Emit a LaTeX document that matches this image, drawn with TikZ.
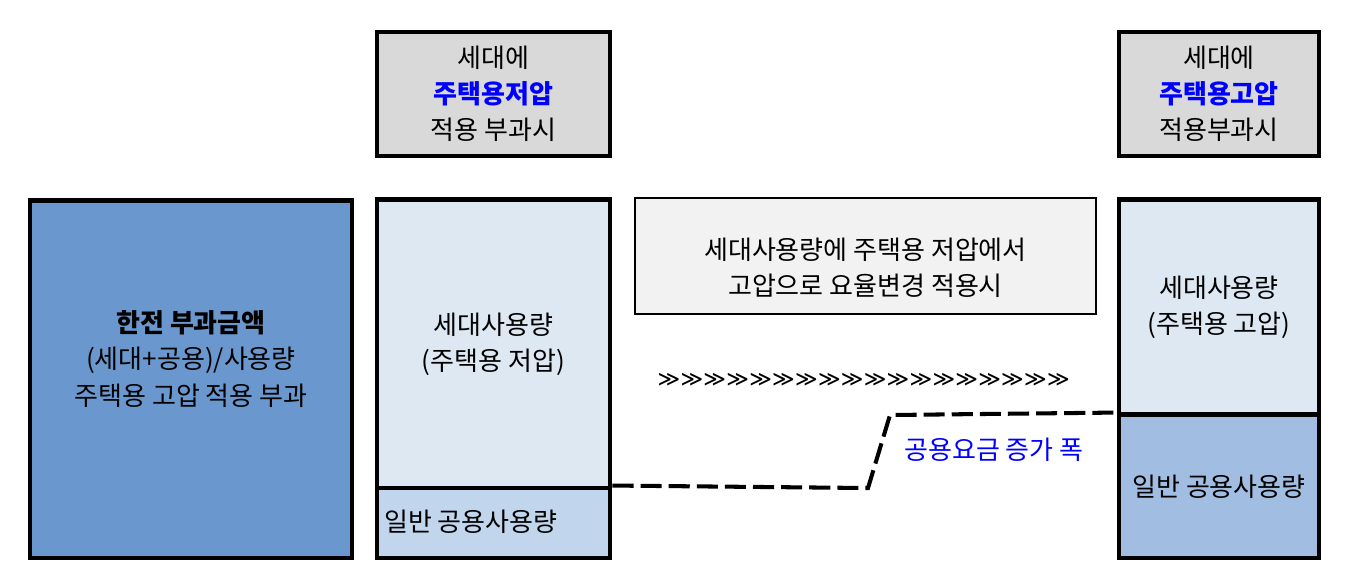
\documentclass[tikz,border=0pt]{standalone}
\usepackage{fontspec}
\setmainfont{Noto Sans CJK KR}
\newfontfamily\symfont{DejaVu Sans}
\usepackage{tikz}
\usetikzlibrary{positioning,calc}
\usepackage{xcolor}
\definecolor{bigblue}{HTML}{6A97CE}
\definecolor{palebox}{HTML}{DEE8F3}
\definecolor{lowblue}{HTML}{C1D6EC}
\definecolor{midblue}{HTML}{A1BEE2}
\definecolor{headgray}{HTML}{D9D9D9}
\definecolor{notegray}{HTML}{F2F2F2}
\definecolor{rateblue}{HTML}{0000FF}

\begin{document}
\begin{tikzpicture}[x=0.02cm, y=-0.02cm,
  every node/.style={align=center, font=\fontsize{14.8}{20.5}\selectfont},
  bar/.style={draw, line width=2.8pt, inner sep=0pt},
  head/.style={bar, fill=headgray, minimum width=4.66cm, minimum height=2.48cm},
  note/.style={draw, line width=1.4pt, fill=notegray, inner sep=0pt}]
\useasboundingbox (0,0) rectangle (1358,576);
% left column: total bill
\node[bar,fill=bigblue,minimum width=6.44cm,minimum height=7.16cm] (total) at (191,379) {};
\node (totaltxt) at (191,359) {\textbf{한전 부과금액}\\(세대+공용)/사용량\\주택용 고압 적용 부과};
% low voltage column
\node[head] (lowhead) at (493.5,94) {세대에\\\textcolor{rateblue}{\textbf{주택용저압}}\\적용 부과시};
\node[bar,fill=palebox,minimum width=4.66cm,minimum height=5.78cm] (lowhome) at (493.5,344) {세대사용량\\(주택용 저압)};
\node[bar,fill=lowblue,minimum width=4.66cm,minimum height=1.4cm] (lowshare) at (493.5,523) {};
\node[anchor=west] (lowsharetxt) at (378,522) {일반 공용사용량};
% middle note
\node[note,minimum width=9.22cm,minimum height=2.32cm] (change) at (865.5,256) {};
\node (changetxt) at (865.5,268) {세대사용량에 주택용 저압에서\\고압으로 요율변경 적용시};
\foreach \i in {0,...,17}
  \node[inner sep=0pt, font=\symfont\fontsize{12.3}{12.3}\selectfont] (step\i) at (669+\i*22.9,380) {≫};
% high voltage column
\node[head,minimum width=4.0cm] (highhead) at (1219,94) {세대에\\\textcolor{rateblue}{\textbf{주택용고압}}\\적용부과시};
\node[bar,fill=palebox,minimum width=4.0cm,minimum height=4.3cm] (highhome) at (1219,307) {세대사용량\\(주택용 고압)};
\node[bar,fill=midblue,minimum width=4.0cm,minimum height=2.86cm] (highshare) at (1219,486.5) {일반 공용사용량};
% increase of the shared charge
\coordinate (kneelow) at (868,488);
\coordinate (kneehigh) at (890,415);
\draw[line width=2.3pt, dash pattern=on 12pt off 4pt] (lowshare.north east) -- (kneelow) -- (kneehigh) -- (highshare.north west);
\node[text=rateblue] (gap) at (994,450) {공용요금 증가 폭};
\end{tikzpicture}
\end{document}
